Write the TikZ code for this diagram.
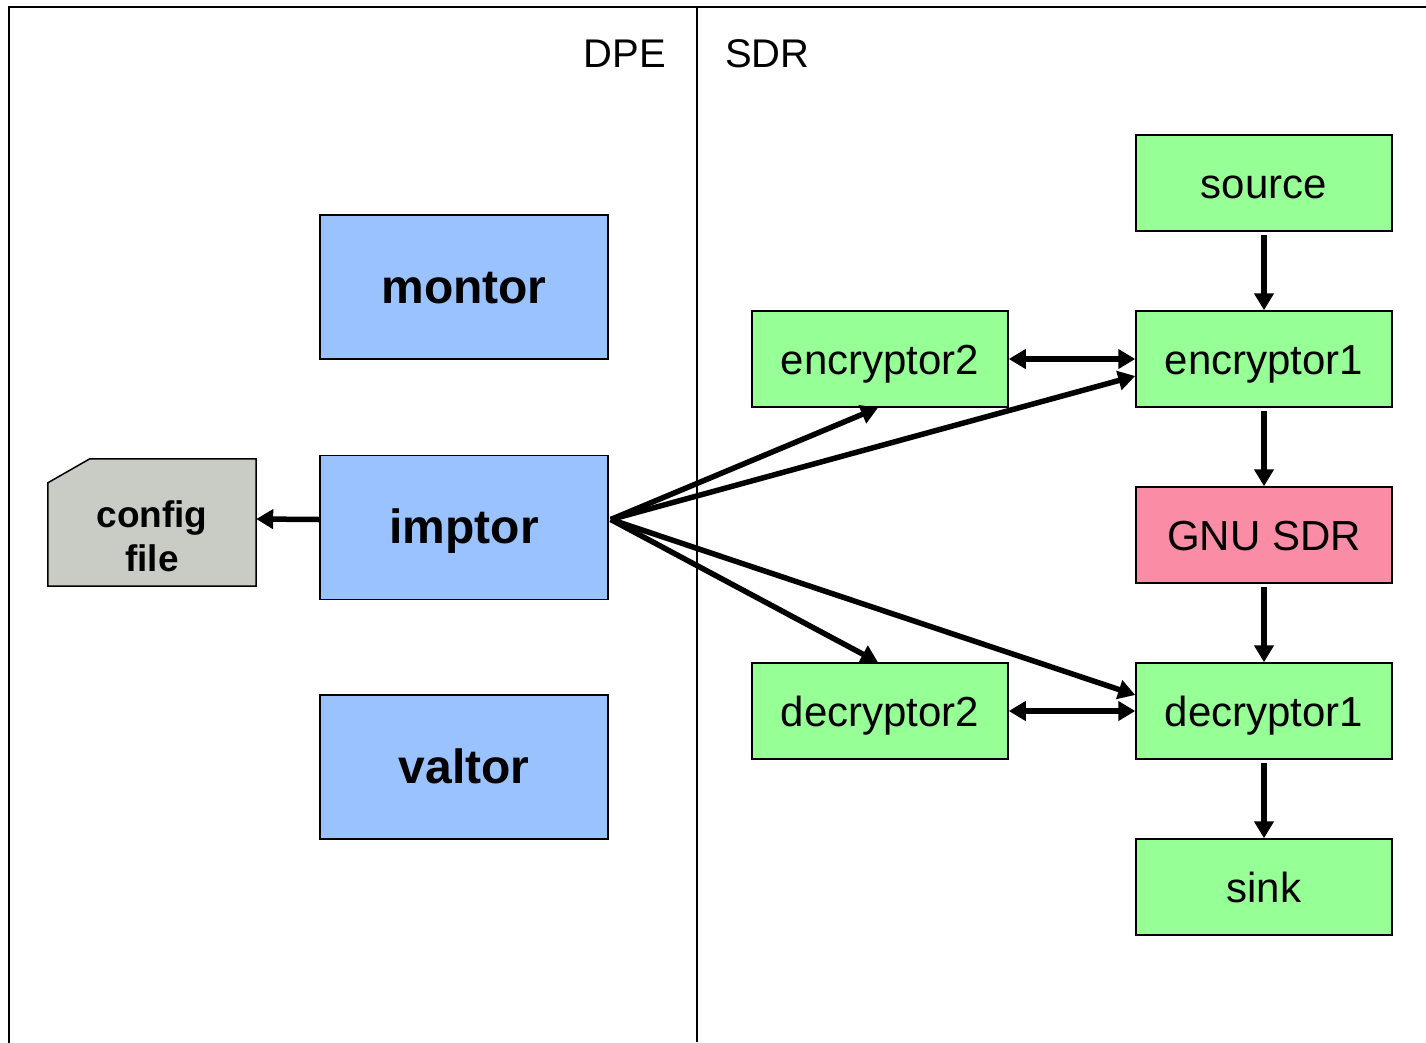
\documentclass[tikz,border=0pt]{standalone}
\usepackage{fontspec}
\setmainfont{Liberation Sans}
\usetikzlibrary{arrows.meta}
\definecolor{bluebox}{RGB}{153,194,255}
\definecolor{greenbox}{RGB}{150,255,150}
\definecolor{pinkbox}{RGB}{250,140,165}
\definecolor{graybox}{RGB}{200,204,196}
\tikzset{
  bluenode/.style={draw=black, line width=1.5pt, fill=bluebox, minimum width=288pt, minimum height=144pt, inner sep=0pt, text height=36pt, text depth=4pt, font=\fontsize{48}{50}\selectfont\bfseries},
  greennode/.style={draw=black, line width=1.5pt, fill=greenbox, minimum width=256pt, minimum height=96pt, inner sep=0pt, text height=35pt, text depth=4pt, font=\fontsize{42}{44}\selectfont},
  conn/.style={line width=5.5pt, -{Triangle[length=17pt,width=19pt]}},
  dconn/.style={line width=5.5pt, {Triangle[length=17pt,width=19pt]}-{Triangle[length=17pt,width=19pt]}},
  frameline/.style={line width=2pt, line cap=rect},
  labeltext/.style={font=\fontsize{40}{44}\selectfont, inner sep=0pt}
}
\begin{document}
\begin{tikzpicture}[x=1pt,y=-1pt]
\useasboundingbox[fill=white] (0,0) rectangle (1426,1042);
% frame
\draw[frameline] (9,1042) -- (9,7) -- (1426,7);
\draw[line width=1.8pt] (697,7) -- (697,1042);
\node[labeltext, anchor=base east] (dpe) at (666,67) {DPE};
\node[labeltext, anchor=base west] (sdr) at (725,67) {SDR};
% DPE boxes
\node[bluenode] (montor) at (464,287) {montor};
\node[bluenode] (imptor) at (464,527.5) {imptor};
\node[bluenode] (valtor) at (464,767) {valtor};
% config file
\node[minimum width=208pt, minimum height=127pt, inner sep=0pt] (cfg) at (152,522.5) {};
\filldraw[draw=black, line width=1.5pt, fill=graybox]
  ([yshift=-24pt]cfg.north west) -- ([xshift=42pt]cfg.north west) -- (cfg.north east)
  -- (cfg.south east) -- (cfg.south west) -- cycle;
\node[align=center, font=\fontsize{37}{44}\selectfont\bfseries, inner sep=0pt] (cfgtext) at (152,536) {config\\file};
% SDR boxes
\node[greennode] (source) at (1264,183) {source};
\node[greennode] (enc1) at (1264,359) {encryptor1};
\node[greennode, fill=pinkbox] (gnu) at (1264,535) {GNU SDR};
\node[greennode] (dec1) at (1264,711) {decryptor1};
\node[greennode] (sink) at (1264,887) {sink};
\node[greennode] (enc2) at (880,359) {encryptor2};
\node[greennode] (dec2) at (880,711) {decryptor2};
% connectors
\draw[conn] ([yshift=8pt]imptor.west) -- ([yshift=3.5pt]cfg.east);
\draw[conn, shorten <=3pt] (source) -- (enc1);
\draw[conn, shorten <=3pt] (enc1) -- (gnu);
\draw[conn, shorten <=3pt] (gnu) -- (dec1);
\draw[conn, shorten <=3pt] (dec1) -- (sink);
\draw[dconn] (enc2) -- (enc1);
\draw[dconn] (dec2) -- (dec1);
\draw[conn] ([yshift=8pt,xshift=2pt]imptor.east) -- ([xshift=-2pt]enc2.south);
\draw[conn] ([yshift=8pt,xshift=2pt]imptor.east) -- ([yshift=-17pt]enc1.west);
\draw[conn] ([yshift=8pt,xshift=2pt]imptor.east) -- ([xshift=-2pt]dec2.north);
\draw[conn] ([yshift=8pt,xshift=2pt]imptor.east) -- ([yshift=16pt]dec1.west);
\end{tikzpicture}
\end{document}
